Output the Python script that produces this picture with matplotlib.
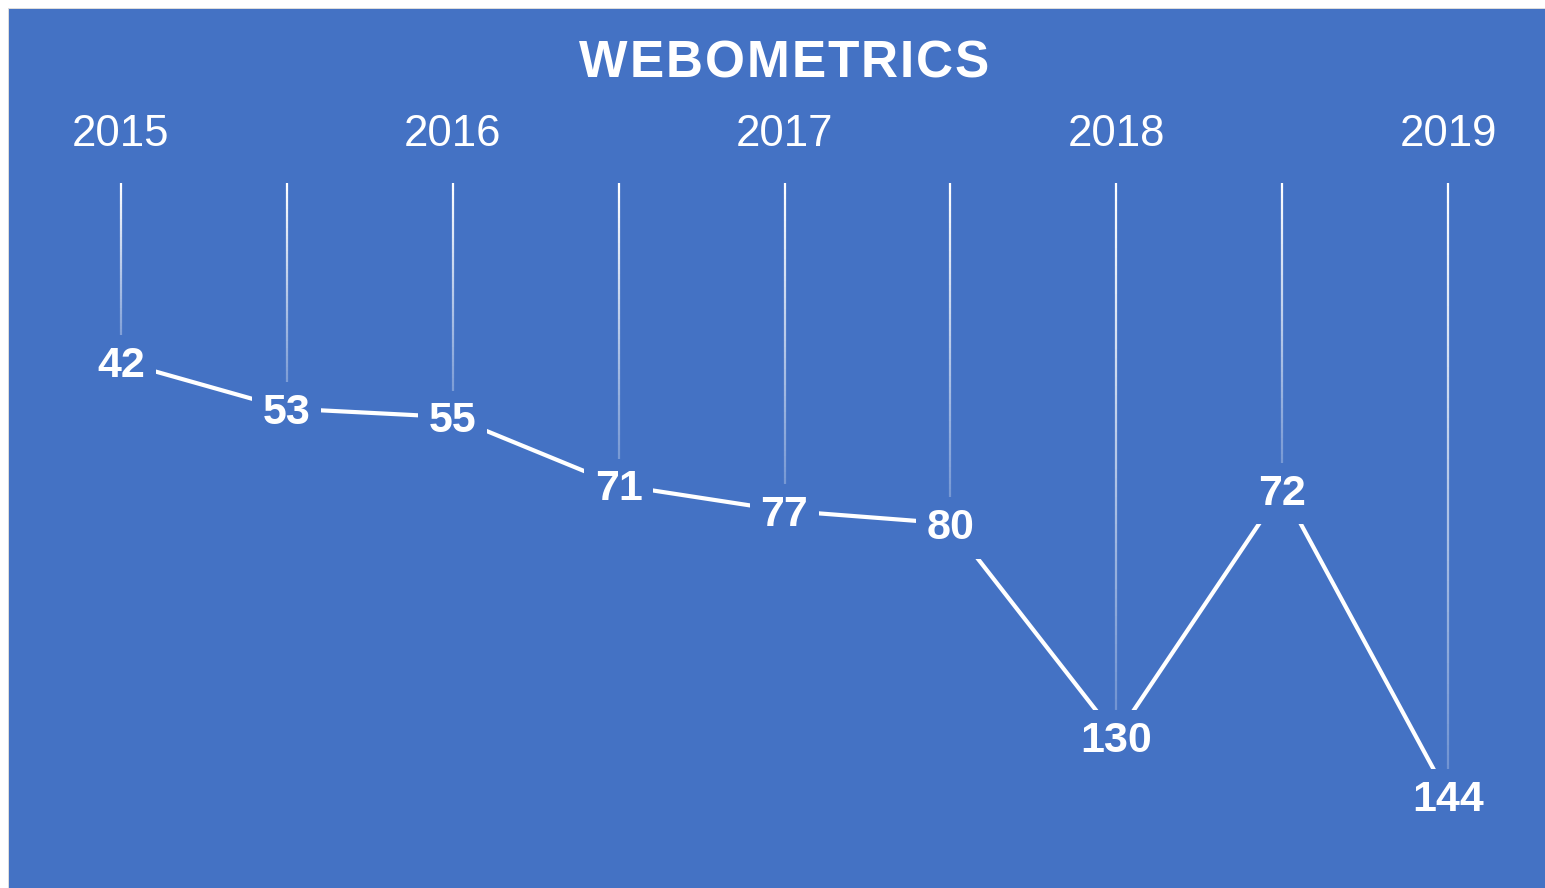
import numpy as np
import matplotlib
matplotlib.use("Agg")
import matplotlib.pyplot as plt
from matplotlib.collections import LineCollection
from matplotlib.patches import Rectangle

plt.rcParams['font.family'] = ['Liberation Sans', 'DejaVu Sans']

# ---- data ----
title = "WEBOMETRICS"
categories = ["2015", "", "2016", "", "2017", "", "2018", "", "2019"]
ranks = [42, 53, 55, 71, 77, 80, 130, 72, 144]

BLUE = "#4472C4"
W, H = 1545, 888
fig = plt.figure(figsize=(W / 100, H / 100), dpi=100, facecolor="white")

# chart area background with thin grey border
fig.patches.append(Rectangle((9 / W, 0), 1 - 9 / W, 1 - 9 / H, transform=fig.transFigure,
                             facecolor=BLUE, edgecolor="none", zorder=-5))
fig.patches.append(Rectangle((8 / W, 0), 1 / W, 1 - 8 / H, transform=fig.transFigure,
                             facecolor="#dcdcdc", edgecolor="none", zorder=-5))
fig.patches.append(Rectangle((8 / W, 1 - 9 / H), 1 - 8 / W, 1 / H, transform=fig.transFigure,
                             facecolor="#dcdcdc", edgecolor="none", zorder=-5))

left_px, right_px = 38, 1531
top_px, bot_px = 183, 864
ax = fig.add_axes([left_px / W, (H - bot_px) / H, (right_px - left_px) / W, (bot_px - top_px) / H])
ax.set_facecolor("none")
x = np.arange(len(categories))
ax.set_xlim(-0.5, len(categories) - 0.5)
ax.set_ylim(160, 0)
for s in ax.spines.values():
    s.set_visible(False)
ax.set_yticks([])
ax.xaxis.tick_top()
ax.set_xticks(x)
ax.set_xticklabels(categories, fontsize=31.5, color="white")
ax.tick_params(axis="x", length=0, pad=20)

# gradient drop lines from the top axis to each point
segs, cols = [], []
n = 60
for xi, r in zip(x, ranks):
    ys = np.linspace(0, r, n + 1)
    for k in range(n):
        segs.append([(xi, ys[k]), (xi, ys[k + 1])])
        a = 1.0 - 0.8 * (k / n)
        cols.append((1, 1, 1, a))
ax.add_collection(LineCollection(segs, colors=cols, linewidths=1.6, zorder=2,
                                 capstyle="butt"))

# main line
ax.plot(x, ranks, color="white", lw=3.0, zorder=3, solid_joinstyle="miter")

# data labels
for xi, r in zip(x, ranks):
    ax.annotate(str(r), (xi, r), xytext=(0, -11), textcoords="offset points",
                ha="center", va="baseline", fontsize=31, fontweight="bold", color="white",
                zorder=5,
                bbox=dict(boxstyle="square,pad=0.25", facecolor=BLUE, edgecolor="none"))

# title with letter spacing
renderer = fig.canvas.get_renderer()
tsize = 37
spacing = 2.0  # px between letters
widths = []
for ch in title:
    t = fig.text(0, 0, ch, fontsize=tsize, fontweight="bold")
    widths.append(t.get_window_extent(renderer).width)
    t.remove()
total = sum(widths) + spacing * (len(title) - 1)
xpos = 784 - total / 2
for ch, w in zip(title, widths):
    fig.text(xpos / W, (H - 77) / H, ch, ha="left", va="baseline", fontsize=tsize,
             fontweight="bold", color="white")
    xpos += w + spacing

fig.savefig("out.png", dpi=100, facecolor="white")
